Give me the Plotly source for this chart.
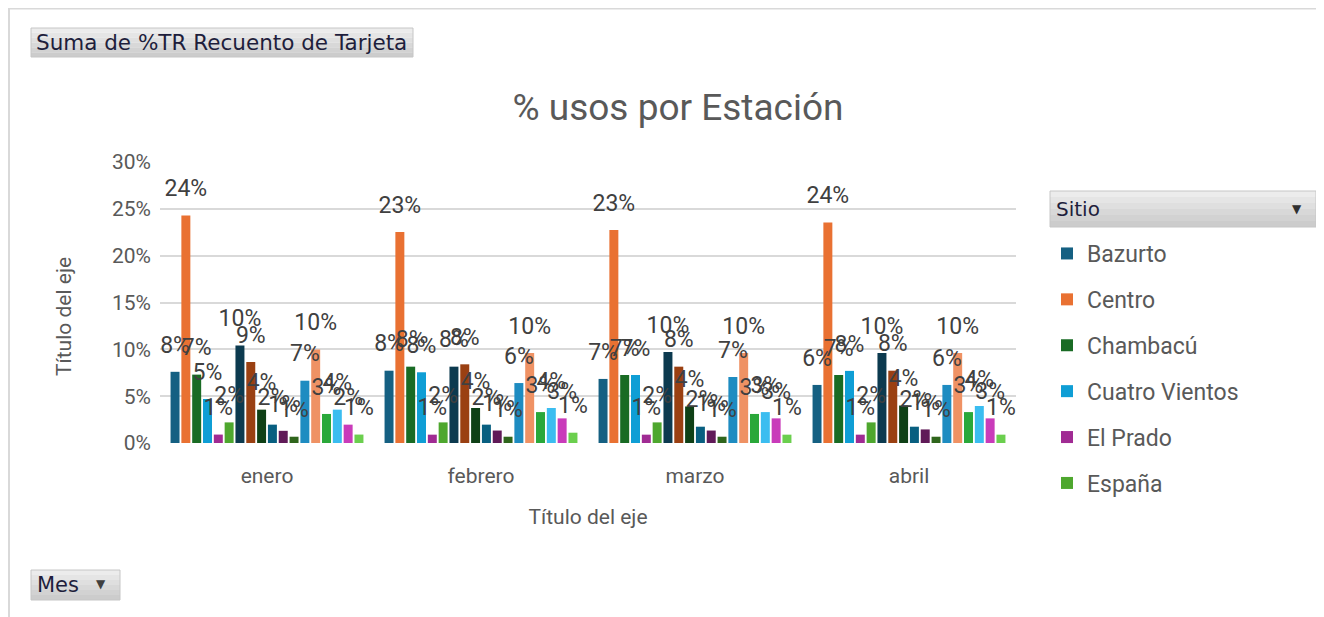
import plotly.graph_objects as go

# ---------------- data (% values) ----------------
meses = ["enero", "febrero", "marzo", "abril"]

# Only the first six site names are legible in the reference legend;
# the remaining series are drawn in the chart but cut off from its legend.
sitios = [
    "Bazurto", "Centro", "Chambacú", "Cuatro Vientos", "El Prado", "España",
    "Sitio 7", "Sitio 8", "Sitio 9", "Sitio 10", "Sitio 11", "Sitio 12",
    "Sitio 13", "Sitio 14", "Sitio 15", "Sitio 16", "Sitio 17", "Sitio 18",
]
visibles_en_leyenda = 6

bazurto = [7.6, 7.72, 6.84, 6.2]
centro = [24.3, 22.54, 22.75, 23.55]
chambacu = [7.3, 8.15, 7.26, 7.26]
cuatro_vientos = [4.7, 7.55, 7.26, 7.7]
el_prado = [0.9, 0.89, 0.89, 0.89]
espana = [2.2, 2.2, 2.2, 2.2]
sitio7 = [10.4, 8.15, 9.72, 9.6]
sitio8 = [8.65, 8.4, 8.15, 7.72]
sitio9 = [3.56, 3.74, 3.9, 4.0]
sitio10 = [1.96, 1.96, 1.74, 1.74]
sitio11 = [1.3, 1.33, 1.33, 1.45]
sitio12 = [0.67, 0.67, 0.67, 0.67]
sitio13 = [6.65, 6.4, 7.05, 6.2]
sitio14 = [9.97, 9.6, 9.6, 9.6]
sitio15 = [3.1, 3.3, 3.1, 3.3]
sitio16 = [3.56, 3.74, 3.3, 3.95]
sitio17 = [1.96, 2.63, 2.63, 2.63]
sitio18 = [0.9, 1.1, 0.89, 0.89]

series = [bazurto, centro, chambacu, cuatro_vientos, el_prado, espana,
          sitio7, sitio8, sitio9, sitio10, sitio11, sitio12,
          sitio13, sitio14, sitio15, sitio16, sitio17, sitio18]

y_ticks = [0, 5, 10, 15, 20, 25, 30]

# ---------------- style ----------------
colores = [
    "#156082", "#E97132", "#196B24", "#0F9ED5", "#A02B93", "#4EA72E",
    "#0C3A4F", "#9A4012", "#0F4016", "#085F80", "#601A58", "#2F651C",
    "#1E8CC1", "#EF9264", "#2AA83A", "#3BBDF0", "#C93BBA", "#6BCF4E",
]
FONT = "Roboto"
BTN_FONT = "DejaVu Sans"
GRIS = "#595959"

OFF = 8                      # the page body margin offsets the figure
W, H = 1324 - OFF, 617 - OFF
ML, MR, MT, MB = 152, 308, 154, 174
PW, PH = W - ML - MR, H - MT - MB


def px_x(px):               # page pixel -> paper x
    return (px - OFF - ML) / PW


def px_y(py):               # page pixel -> paper y
    return (H - MB - (py - OFF)) / PH


fig = go.Figure()

for i, (nombre, vals) in enumerate(zip(sitios, series)):
    frac = [v / 100 for v in vals]
    fig.add_trace(go.Bar(
        name=nombre, x=meses, y=frac,
        marker=dict(color=colores[i], line=dict(width=0)),
        offsetgroup=str(i), legendgroup=str(i),
        showlegend=i < visibles_en_leyenda,
        hovertemplate=nombre + " %{x}: %{y:.1%}<extra></extra>",
    ))
    fig.add_trace(go.Scatter(
        x=meses, y=frac, mode="markers+text",
        texttemplate="%{y:.0%}", textposition="top center",
        textfont=dict(family=FONT, size=23, color="#404040"),
        marker=dict(size=20, opacity=0),
        offsetgroup=str(i), legendgroup=str(i), showlegend=False,
        hoverinfo="skip", cliponaxis=False,
    ))

shapes = []
annotations = []

# outer chart border
shapes.append(dict(type="rect", xref="paper", yref="paper",
                   x0=px_x(9), x1=px_x(1350), y0=px_y(650), y1=px_y(8.5),
                   line=dict(color="#d9d9d9", width=2), fillcolor="rgba(0,0,0,0)",
                   layer="below"))


def boton(x0, x1, y0, y1):
    n = 6
    top, bot = (236, 236, 236), (204, 204, 204)
    for k in range(n):
        t = k / (n - 1)
        c = tuple(int(top[j] + (bot[j] - top[j]) * t) for j in range(3))
        ya = y0 + (y1 - y0) * k / n
        yb = y0 + (y1 - y0) * (k + 1) / n
        shapes.append(dict(type="rect", xref="paper", yref="paper",
                           x0=px_x(x0), x1=px_x(x1), y0=px_y(yb), y1=px_y(ya),
                           line=dict(width=0), fillcolor="rgb(%d,%d,%d)" % c,
                           layer="below"))
    shapes.append(dict(type="rect", xref="paper", yref="paper",
                       x0=px_x(x0), x1=px_x(x1), y0=px_y(y1), y1=px_y(y0),
                       line=dict(color="#c6c6c6", width=1),
                       fillcolor="rgba(0,0,0,0)", layer="below"))


def texto(t, px, py, size, color, anchor="left", family=BTN_FONT, angle=0):
    annotations.append(dict(text=t, xref="paper", yref="paper",
                            x=px_x(px), y=px_y(py), xanchor=anchor, yanchor="middle",
                            showarrow=False, textangle=angle,
                            font=dict(family=family, size=size, color=color)))


boton(31, 413, 28, 57)
texto("Suma de %TR Recuento de Tarjeta", 34, 43, 21.5, "#1e1e3c")
boton(31, 120, 570, 600)
texto("Mes", 35, 585, 21, "#1e1e3c")
texto("▼", 101, 584, 12, "#404040", anchor="center")
boton(1050, 1316, 191, 227)
texto("Sitio", 1054, 209, 20, "#1e1e3c")
texto("▼", 1297, 209, 12, "#303030", anchor="center")

# vertical axis title (placed where the reference shows it)
texto("Título del eje", 64, 317, 21, GRIS, anchor="center", family=FONT, angle=-90)

fig.update_layout(
    width=W, height=H,
    margin=dict(l=ML, r=MR, t=MT, b=MB, autoexpand=False),
    paper_bgcolor="white", plot_bgcolor="white",
    barmode="group", bargap=0.09, bargroupgap=0.17,
    scattermode="group", scattergap=0.09,
    font=dict(family=FONT, color=GRIS),
    title=dict(text="% usos por Estación", x=(678 - OFF) / W, xanchor="center",
               y=1 - (107 - OFF) / H, yanchor="middle",
               font=dict(family=FONT, size=37, color=GRIS)),
    xaxis=dict(title=dict(text="Título del eje", font=dict(size=21, color=GRIS), standoff=22),
               tickfont=dict(size=21, color=GRIS), showgrid=False, zeroline=False,
               showline=False, ticks="", ticklabelstandoff=18),
    yaxis=dict(range=[0, 0.30], tickvals=[v / 100 for v in y_ticks], tickformat=".0%",
               tickfont=dict(size=21, color=GRIS), showgrid=True,
               gridcolor="#d9d9d9", gridwidth=2, zeroline=False, showline=False,
               ticks="", ticklabelstandoff=8),
    legend=dict(x=px_x(1047), y=px_y(232), xanchor="left", yanchor="top",
                traceorder="grouped", tracegroupgap=13, maxheight=420,
                font=dict(family=FONT, size=23, color=GRIS),
                bgcolor="rgba(0,0,0,0)"),
    shapes=shapes, annotations=annotations,
    showlegend=True,
)

fig.write_html("out.html")
